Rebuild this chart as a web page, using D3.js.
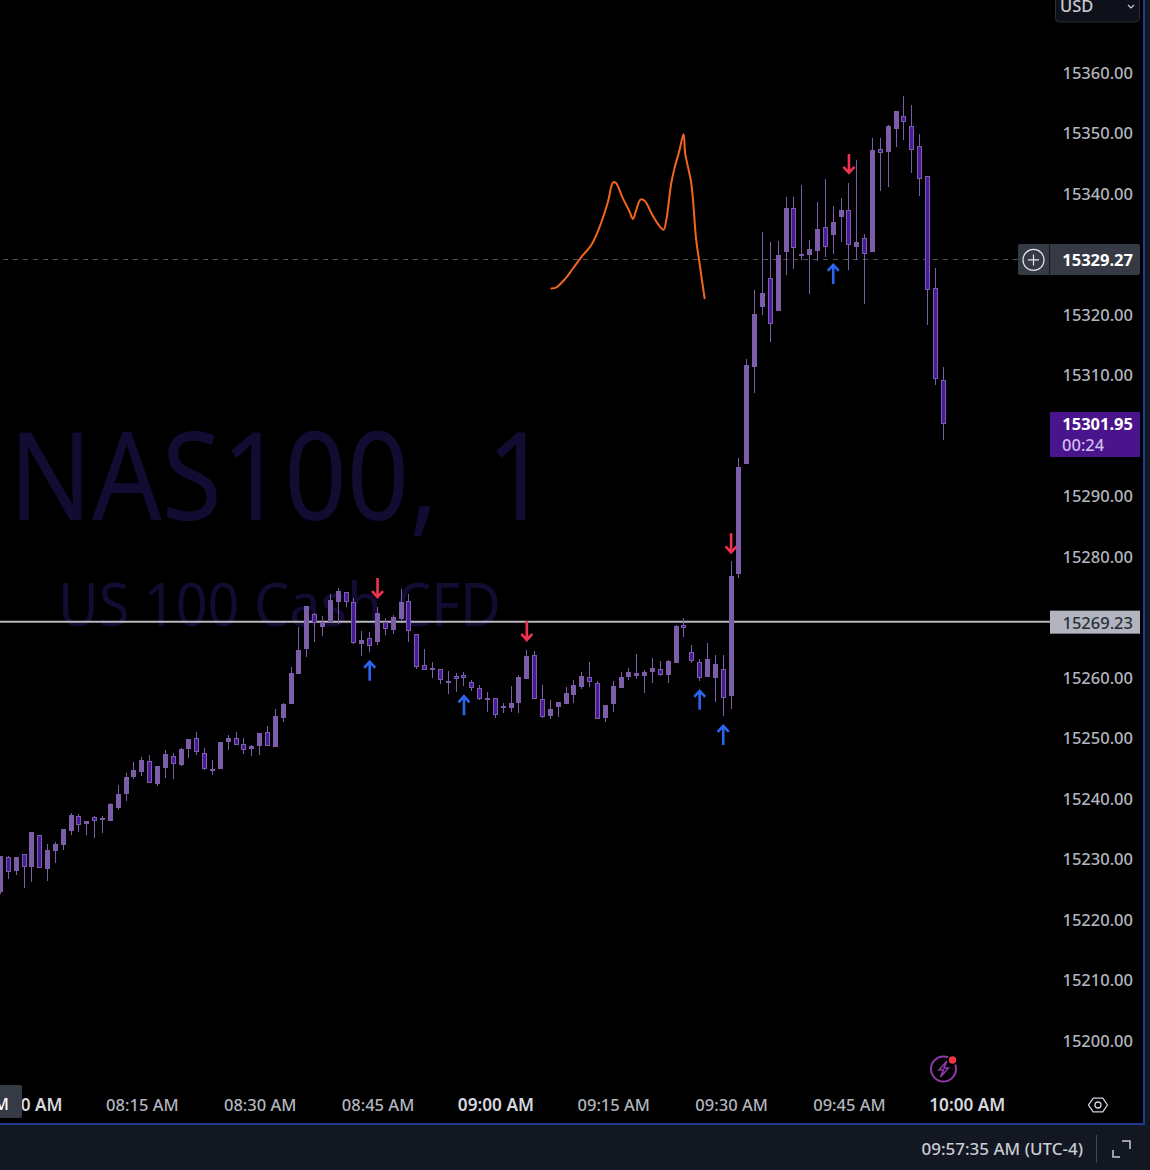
<!DOCTYPE html>
<html>
<head>
<meta charset="utf-8">
<script src="https://cdn.jsdelivr.net/npm/d3@7"></script>
<style>
    html, body { margin: 0; background: #000; overflow: hidden; }
    text { font-family: "Noto Sans", sans-serif; }
</style>
</head>
<body>
<div id="chart"></div>
<script>
// one minute candles, the first one is 07:57
const firstMinute = 477;
const opens = [
    15224.5,15230.3,15228.0,15230.8,15228.7,15234.0,15228.3,15231.3,15232.3,15234.6,
    15237.1,15235.8,15236.9,15236.8,15236.3,15238.4,15240.7,15243.5,15244.4,15246.2,
    15242.4,15245.0,15247.0,15245.5,15248.2,15250.0,15247.5,15244.7,15244.9,15249.3,
    15250.0,15249.0,15248.2,15248.7,15251.0,15248.5,15253.3,15255.6,15260.6,15264.7,
    15270.5,15268.3,15269.2,15272.5,15274.1,15272.5,15265.5,15266.5,15265.9,15269.2,
    15267.8,15269.7,15272.6,15267.2,15262.1,15261.2,15261.4,15259.4,15260.2,15260.4,
    15259.3,15258.3,15256.4,15256.6,15254.9,15254.9,15255.8,15259.7,15263.7,15256.4,
    15253.6,15255.1,15255.6,15257.1,15258.4,15260.1,15259.1,15253.3,15255.6,15258.3,
    15260.1,15260.2,15260.2,15260.9,15261.4,15260.4,15262.4,15268.7,15264.2,15262.6,
    15260.1,15259.9,15261.4,15256.9,15277.1,15295.3,15311.3,15321.2,15326.0,15320.6,
    15330.3,15337.6,15330.0,15329.8,15330.5,15334.5,15333.1,15336.1,15337.3,15331.2,
    15332.6,15330.3,15347.3,15346.9,15350.7,15352.8,15351.2,15347.8,15342.9,15324.4,15309.2
];
const highs = [
    15230.5,15230.5,15230.3,15230.8,15234.5,15234.0,15232.5,15232.8,15235.0,15237.6,
    15237.5,15236.3,15237.1,15237.1,15239.2,15242.2,15244.2,15246.0,15246.8,15247.2,
    15245.4,15248.0,15247.5,15248.3,15249.8,15251.0,15248.3,15246.4,15249.4,15250.5,
    15251.0,15250.0,15248.8,15250.8,15252.0,15254.8,15255.8,15261.7,15268.3,15271.9,
    15270.7,15270.2,15273.8,15274.8,15274.1,15273.1,15267.7,15267.5,15271.6,15269.8,
    15270.3,15274.6,15273.8,15267.2,15264.7,15262.6,15261.4,15261.1,15260.7,15260.9,
    15259.6,15258.8,15257.6,15256.6,15255.8,15258.6,15260.4,15264.5,15264.4,15258.8,
    15256.3,15255.9,15258.4,15259.6,15260.9,15262.6,15259.4,15255.4,15259.4,15260.9,
    15261.6,15263.9,15261.2,15263.2,15262.7,15262.9,15268.7,15269.8,15265.4,15263.0,
    15265.7,15263.7,15263.7,15279.2,15296.3,15312.6,15324.1,15333.6,15332.0,15332.1,
    15339.4,15339.4,15341.4,15332.3,15338.6,15342.4,15337.9,15339.2,15341.7,15345.5,
    15333.3,15349.2,15349.2,15351.3,15353.6,15356.1,15354.6,15349.8,15342.9,15327.7,15311.3
];
const lows = [
    15224.2,15226.7,15227.3,15225.2,15226.2,15228.5,15226.4,15229.3,15231.5,15234.0,
    15234.5,15234.0,15233.5,15234.3,15236.3,15238.1,15239.6,15243.2,15243.7,15242.6,
    15242.1,15243.4,15243.2,15245.4,15246.7,15247.2,15244.7,15244.0,15244.9,15248.0,
    15248.8,15247.4,15247.0,15247.2,15248.7,15248.5,15252.6,15255.6,15260.6,15263.4,
    15265.9,15266.9,15269.2,15268.8,15271.6,15265.5,15263.6,15264.2,15265.4,15267.0,
    15267.2,15269.3,15265.9,15261.4,15261.2,15259.9,15258.9,15257.3,15257.6,15258.6,
    15257.8,15256.4,15254.3,15253.3,15254.1,15254.3,15254.1,15259.7,15256.4,15253.3,
    15253.1,15253.5,15255.6,15255.8,15258.1,15258.4,15253.1,15252.6,15254.3,15258.3,
    15259.6,15259.7,15257.4,15259.1,15260.2,15259.1,15262.4,15266.7,15262.4,15259.4,
    15260.1,15255.9,15253.6,15254.8,15276.4,15295.3,15307.0,15319.9,15315.4,15320.6,
    15326.5,15327.5,15329.0,15323.4,15328.8,15329.5,15330.0,15332.0,15327.4,15329.0,
    15321.7,15330.3,15340.4,15341.1,15347.7,15348.8,15343.4,15339.6,15318.3,15308.3,15299.2
];
const closes = [
    15230.5,15227.8,15230.3,15228.7,15234.5,15228.5,15231.5,15232.5,15235.0,15237.3,
    15235.6,15236.3,15236.3,15236.6,15239.1,15240.7,15243.5,15244.7,15246.3,15242.6,
    15245.4,15247.4,15245.7,15248.2,15249.8,15247.7,15244.9,15244.9,15249.3,15250.0,
    15248.8,15248.0,15248.7,15250.8,15248.7,15253.6,15255.6,15260.7,15264.5,15271.8,
    15269.0,15269.2,15272.8,15274.3,15272.5,15265.7,15266.2,15265.2,15270.7,15268.0,
    15270.0,15272.5,15267.7,15261.7,15261.2,15261.6,15259.6,15259.3,15259.7,15259.9,
    15258.3,15256.4,15256.6,15253.8,15255.3,15255.8,15260.1,15263.5,15256.4,15253.5,
    15254.8,15255.9,15257.4,15258.8,15260.2,15259.3,15253.1,15255.4,15258.6,15260.1,
    15260.9,15260.7,15260.9,15261.6,15260.4,15262.7,15268.5,15268.2,15262.7,15259.9,
    15263.0,15262.2,15256.6,15276.8,15294.8,15311.6,15320.1,15323.6,15318.4,15329.8,
    15337.6,15331.0,15329.8,15330.8,15334.1,15331.2,15335.3,15337.3,15331.5,15332.0,
    15330.0,15347.2,15346.7,15351.2,15353.6,15351.8,15347.2,15342.4,15324.0,15309.3,15301.95
];

// hand drawn orange curve: minute of the day, price
const sketchMinutes = [547.13,547.76,548.82,549.87,550.94,552.21,553.27,554.32,554.96,555.30,556.23,557.08,557.50,557.93,558.48,558.99,560.04,560.89,561.40,561.75,562.38,562.80,563.44,563.95,564.16,564.93,565.56,565.98,566.62];
const sketchPrices = [15324.3,15324.5,15325.8,15327.6,15329.5,15331.5,15334.5,15338.6,15341.8,15341.8,15339.2,15337.0,15335.8,15337.3,15339.0,15338.8,15336.3,15334.6,15334.0,15335.6,15341.7,15344.2,15347.2,15349.8,15346.6,15341.7,15332.3,15328.5,15322.7];

// arrows, the price is where the tip of the arrow is
const upArrowMinutes = [524, 536, 566, 569, 583];
const upArrowPrices = [15262.6, 15256.9, 15257.8, 15252.0, 15328.2];
const downArrowMinutes = [525, 544, 570, 585];
const downArrowPrices = [15273.3, 15266.2, 15280.7, 15343.4];

const priceTicks = [15200,15210,15220,15230,15240,15250,15260,15280,15290,15310,15320,15340,15350,15360];
const timeTicks = [480, 495, 510, 525, 540, 555, 570, 585, 600];
const timeLabels = ["08:00 AM","08:15 AM","08:30 AM","08:45 AM","09:00 AM","09:15 AM","09:30 AM","09:45 AM","10:00 AM"];

const closeLevel = 15269.23;
const lastPrice = 15301.95;
const crossPrice = 15329.27;

const width = 1150, height = 1170;
const upColor = "#7b5ea7", downColor = "#4a1a9c";
const axisColor = "#b2b5be";

const x = d3.scaleLinear().domain([480, 600]).range([24, 966.8]);
const y = d3.scaleLinear().domain([15200, 15360]).range([1040.5, 72.5]);

const svg = d3.select("#chart")
    .append("svg")
    .attr("width", width)
    .attr("height", height)
    .style("display", "block");

svg.append("rect").attr("width", width).attr("height", height).attr("fill", "#000");

// watermark
svg.append("text")
    .attr("x", 9).attr("y", 520)
    .attr("font-size", 122)
    .attr("fill", "#120c33")
    .attr("word-spacing", 22)
    .attr("textLength", 540)
    .attr("lengthAdjust", "spacingAndGlyphs")
    .text("NAS100, 1");
svg.append("text")
    .attr("x", 58).attr("y", 626)
    .attr("font-size", 60)
    .attr("fill", "#120c33")
    .attr("textLength", 443)
    .attr("lengthAdjust", "spacingAndGlyphs")
    .text("US 100 Cash CFD");

// price lines
svg.append("line")
    .attr("x1", 3).attr("x2", 1018)
    .attr("y1", Math.round(y(crossPrice)) + 1.5).attr("y2", Math.round(y(crossPrice)) + 1.5)
    .attr("stroke", "#4a4d55")
    .attr("stroke-dasharray", "5 5");
svg.append("line")
    .attr("x1", 0).attr("x2", 1050)
    .attr("y1", y(closeLevel)).attr("y2", y(closeLevel))
    .attr("stroke", "#b9b9c0")
    .attr("stroke-width", 2);

// candles
const candles = d3.range(opens.length);
const col = i => Math.round(x(firstMinute + i) - 0.5);
const bodyTop = i => Math.round(y(Math.max(opens[i], closes[i])));
const bodyH = i => Math.max(2, Math.round(y(Math.min(opens[i], closes[i]))) - bodyTop(i));

svg.append("g").selectAll("rect")
    .data(candles)
    .enter()
    .append("rect")
    .attr("x", col)
    .attr("width", 1)
    .attr("y", i => Math.round(y(highs[i])))
    .attr("height", i => Math.max(1, Math.round(y(lows[i]) - y(highs[i]))))
    .attr("fill", upColor);
svg.append("g").selectAll("rect")
    .data(candles)
    .enter()
    .append("rect")
    .attr("x", i => col(i) - 2)
    .attr("width", 5)
    .attr("y", bodyTop)
    .attr("height", bodyH)
    .attr("fill", upColor);
// down candles keep the light border, only the inside is dark
svg.append("g").selectAll("rect")
    .data(candles.filter(i => closes[i] < opens[i] && bodyH(i) > 2))
    .enter()
    .append("rect")
    .attr("x", i => col(i) - 1)
    .attr("width", 3)
    .attr("y", i => bodyTop(i) + 1)
    .attr("height", i => bodyH(i) - 2)
    .attr("fill", downColor);

// orange sketch
svg.append("path")
    .datum(d3.range(sketchMinutes.length))
    .attr("fill", "none")
    .attr("stroke", "#f2651d")
    .attr("stroke-width", 2)
    .attr("stroke-linecap", "round")
    .attr("d", d3.line()
        .x(i => x(sketchMinutes[i]))
        .y(i => y(sketchPrices[i]))
        .curve(d3.curveCatmullRom));

// arrows
const arrowLine = d3.line();
function arrow(minute, price, dir, color) {
    const ax = x(minute), ay = y(price);
    svg.append("path")
        .attr("fill", "none")
        .attr("stroke", color)
        .attr("stroke-width", 2.6)
        .attr("d", arrowLine([[ax, ay], [ax, ay + dir * 19]]) + arrowLine([[ax - 5.5, ay + dir * 6], [ax, ay], [ax + 5.5, ay + dir * 6]]));
}
upArrowMinutes.forEach((m, i) => arrow(m, upArrowPrices[i], 1, "#2a66f0"));
downArrowMinutes.forEach((m, i) => arrow(m, downArrowPrices[i], -1, "#ee3350"));

// price axis
svg.append("g")
    .attr("transform", "translate(1133,0.7)")
    .call(d3.axisRight(y).tickValues(priceTicks).tickSize(0).tickPadding(0).tickFormat(d3.format(".2f")))
    .call(g => g.select(".domain").remove())
    .call(g => g.selectAll("text")
        .attr("text-anchor", "end")
        .attr("fill", axisColor)
        .attr("font-size", 16.5)
        .attr("font-weight", 500)
        .style("font-family", "'Noto Sans', sans-serif"));

// time axis
svg.append("g")
    .attr("transform", "translate(0,1099)")
    .call(d3.axisBottom(x).tickValues(timeTicks).tickSize(0).tickPadding(0).tickFormat((d, i) => timeLabels[i]))
    .call(g => g.select(".domain").remove())
    .call(g => g.selectAll("text")
        .attr("fill", d => d % 60 === 0 ? "#d6d8de" : axisColor)
        .attr("font-weight", d => d % 60 === 0 ? 600 : 500)
        .attr("font-size", d => d % 60 === 0 ? 17.2 : 16.5)
        .style("font-family", "'Noto Sans', sans-serif"));

// crosshair time label, cut off on the left
svg.append("rect").attr("x", -6).attr("y", 1085).attr("width", 28).attr("height", 33).attr("rx", 2).attr("fill", "#363a45");
svg.append("text").attr("x", 9).attr("y", 1110).attr("text-anchor", "end").attr("font-size", 16.5).attr("font-weight", 500).attr("fill", "#fff").text("M");

// label of the horizontal line
svg.append("rect").attr("x", 1050).attr("y", y(closeLevel) - 11).attr("width", 90).attr("height", 23).attr("fill", "#b2b5be");
svg.append("text").attr("x", 1133).attr("y", y(closeLevel) + 7).attr("text-anchor", "end").attr("font-size", 16.5).attr("font-weight", 500).attr("fill", "#2a2e39").text(d3.format(".2f")(closeLevel));

// crosshair price label
const crossY = y(crossPrice) + 0.5;
svg.append("rect").attr("x", 1018).attr("y", crossY - 15).attr("width", 122).attr("height", 31).attr("rx", 2).attr("fill", "#363a45");
svg.append("line").attr("x1", 1049.5).attr("x2", 1049.5).attr("y1", crossY - 15).attr("y2", crossY + 16).attr("stroke", "#16181f");
svg.append("circle").attr("cx", 1033.5).attr("cy", crossY + 1).attr("r", 10.5).attr("fill", "none").attr("stroke", "#e4e6ea").attr("stroke-width", 1.2);
svg.append("path").attr("d", d3.line()([[1028, crossY + 1], [1039, crossY + 1]]) + d3.line()([[1033.5, crossY - 4.5], [1033.5, crossY + 6.5]])).attr("stroke", "#e4e6ea").attr("stroke-width", 1.2);
svg.append("text").attr("x", 1133).attr("y", crossY + 7).attr("text-anchor", "end").attr("font-size", 16.5).attr("font-weight", 700).attr("fill", "#fff").text(d3.format(".2f")(crossPrice));

// last price label with the countdown
svg.append("rect").attr("x", 1050).attr("y", 412).attr("width", 90).attr("height", 45).attr("fill", "#4a148c");
svg.append("text").attr("x", 1133).attr("y", y(lastPrice) + 6.5).attr("text-anchor", "end").attr("font-size", 16.5).attr("font-weight", 700).attr("fill", "#fff").text(d3.format(".2f")(lastPrice));
svg.append("text").attr("x", 1062).attr("y", 451).attr("font-size", 16.5).attr("font-weight", 500).attr("fill", "#cfbdea").text("00:24");

// currency button
svg.append("rect").attr("x", 1055.5).attr("y", -8).attr("width", 84).attr("height", 30).attr("rx", 4).attr("fill", "#0e111a").attr("stroke", "#2a2e39");
svg.append("text").attr("x", 1060).attr("y", 12).attr("font-size", 16.5).attr("font-weight", 500).attr("fill", "#c8cbd3").text("USD");
svg.append("path").attr("d", "M1128 5l3 3l3 -3").attr("fill", "none").attr("stroke", "#c8cbd3").attr("stroke-width", 1.2);

// lightning icon
svg.append("circle").attr("cx", 943.5).attr("cy", 1069).attr("r", 12.5).attr("fill", "none").attr("stroke", "#8e3aa8").attr("stroke-width", 2);
svg.append("path").attr("d", "M947 1061l-8 9h4.5l-3 7l8 -9h-4.5z").attr("fill", "none").attr("stroke", "#8e3aa8").attr("stroke-width", 1.5);
svg.append("circle").attr("cx", 952.5).attr("cy", 1060).attr("r", 4.5).attr("fill", "#f23645").attr("stroke", "#000").attr("stroke-width", 1.5);

// settings hexagon
const hexagon = d3.range(6).map(i => [1098 + 9.5 * Math.cos(i * Math.PI / 3), 1105 + 8 * Math.sin(i * Math.PI / 3)]);
svg.append("path").attr("d", d3.line().curve(d3.curveLinearClosed)(hexagon)).attr("fill", "none").attr("stroke", "#d1d4dc").attr("stroke-width", 1.3);
svg.append("circle").attr("cx", 1098).attr("cy", 1105).attr("r", 3).attr("fill", "none").attr("stroke", "#d1d4dc").attr("stroke-width", 1.3);

// frame and bottom bar
svg.append("rect").attr("x", 1145).attr("y", 0).attr("width", 5).attr("height", height).attr("fill", "#131722");
svg.append("rect").attr("x", 0).attr("y", 1125).attr("width", width).attr("height", 45).attr("fill", "#131722");
svg.append("rect").attr("x", 1143).attr("y", 0).attr("width", 2).attr("height", 1125).attr("fill", "#1f3a8f");
svg.append("rect").attr("x", 0).attr("y", 1123).attr("width", 1145).attr("height", 2).attr("fill", "#1f3a8f");

svg.append("text").attr("x", 1083).attr("y", 1155).attr("text-anchor", "end").attr("font-size", 17).attr("font-weight", 500).attr("fill", "#c8cbd3").text("09:57:35 AM (UTC-4)");
svg.append("line").attr("x1", 1096.5).attr("x2", 1096.5).attr("y1", 1135).attr("y2", 1163).attr("stroke", "#434651");
svg.append("path").attr("d", "M1113 1150v7h7M1122 1141h8v8").attr("fill", "none").attr("stroke", "#c8cbd3").attr("stroke-width", 1.5);
</script>
</body>
</html>
